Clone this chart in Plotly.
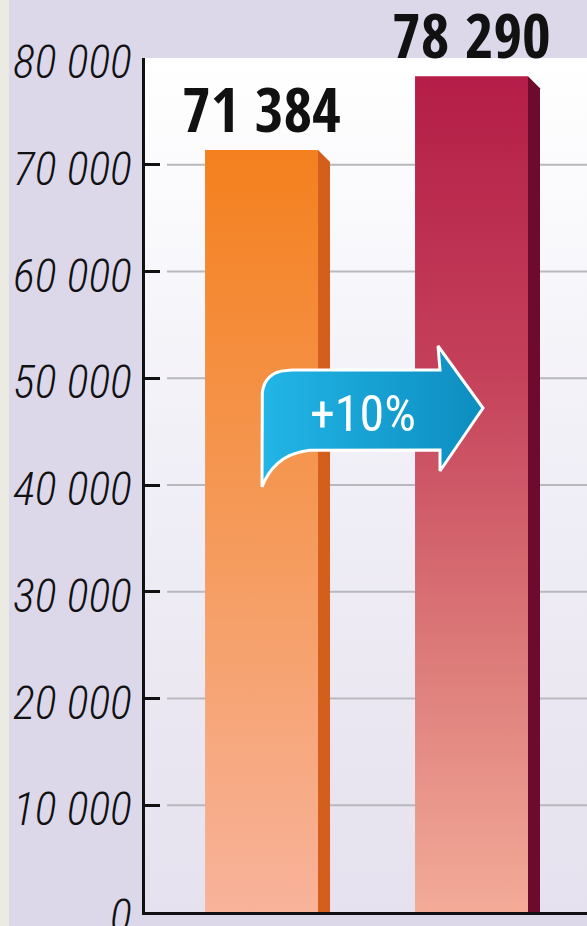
import plotly.graph_objects as go

# ---------------- data ----------------
categories = ["Previous", "Current"]
values = [71384, 78290]
tick_vals = [0, 10000, 20000, 30000, 40000, 50000, 60000, 70000, 80000]
tick_text = ["0", "10 000", "20 000", "30 000", "40 000", "50 000", "60 000", "70 000", "80 000"]
change_label = "+10%"

# ---------------- styles ----------------
front_scales = [
    [[0, "#f8b39b"], [0.5, "#f59a5a"], [1, "#f4801e"]],
    [[0, "#f3ab98"], [0.3, "#dd7c7a"], [0.65, "#c4405a"], [1, "#b41d47"]],
]
side_colors = ["#d45e1c", "#6c0b2d"]
TICK_FONT = "Roboto Condensed, DejaVu Sans Condensed, sans-serif"
VALUE_FONT = "Open Sans Condensed, Roboto Condensed, sans-serif"

W, H = 587, 926
ML, MR, MT, MB = 145, 0, 58, 14
PW, PH = W - ML - MR, H - MT - MB
X0, X1 = -0.555, 1.55
Y0, Y1 = 0, 80000
BW = 0.538  # bar width in category units


def px2x(px):
    return X0 + (px - ML) / PW * (X1 - X0)


def py2y(py):
    return Y0 + (H - MB - py) / PH * (Y1 - Y0)


DX = px2x(ML + 12) - px2x(ML)
DY = py2y(H - MB - 12) - py2y(H - MB)

fig = go.Figure()

# plot background gradient
fig.add_trace(go.Scatter(
    x=[X0, X1, X1, X0, X0], y=[Y0, Y0, Y1, Y1, Y0], mode="lines",
    fill="toself", line=dict(width=0),
    fillgradient=dict(type="vertical",
                      colorscale=[[0, "#e5e1ee"], [0.5, "#f0eef6"], [1, "#ffffff"]]),
    hoverinfo="skip", showlegend=False))

# gridlines
for tv in tick_vals[1:-1]:
    fig.add_trace(go.Scatter(x=[px2x(167), X1], y=[tv, tv], mode="lines",
                             line=dict(color="#b9b9bd", width=2),
                             hoverinfo="skip", showlegend=False))

# bars (front face + side face)
for i, (cat, v) in enumerate(zip(categories, values)):
    l, r = i - BW / 2, i + BW / 2
    fig.add_trace(go.Scatter(
        x=[l, r, r, l, l], y=[0, 0, v, v, 0], mode="lines", fill="toself",
        line=dict(width=0), name=cat,
        fillgradient=dict(type="vertical", colorscale=front_scales[i]),
        showlegend=False))
    fig.add_trace(go.Scatter(
        x=[r, r + DX, r + DX, r, r], y=[0, 0, v - DY, v, 0], mode="lines", fill="toself",
        line=dict(width=0), fillcolor=side_colors[i], hoverinfo="skip", showlegend=False))
    fig.add_annotation(x=i, y=v, text=f"{v:,}".replace(",", " "), showarrow=False,
                       yanchor="bottom", yshift=-2,
                       font=dict(family=VALUE_FONT, size=62, weight="bold", color="#111111"))


# arrow callout (decoration)
def quad(p0, c, p1, n=10):
    pts = []
    for k in range(1, n + 1):
        t = k / n
        pts.append(((1 - t) ** 2 * p0[0] + 2 * (1 - t) * t * c[0] + t * t * p1[0],
                    (1 - t) ** 2 * p0[1] + 2 * (1 - t) * t * c[1] + t * t * p1[1]))
    return pts


pts = [(262, 487), (262, 398)]
pts += quad((262, 398), (262, 370), (292, 370))
pts += [(440, 370), (438, 346), (483, 408), (440, 471), (440, 450), (318, 450)]
pts += quad((318, 450), (276, 450), (262, 487))
fig.add_trace(go.Scatter(
    x=[px2x(p[0]) for p in pts], y=[py2y(p[1]) for p in pts], mode="lines",
    fill="toself", line=dict(color="white", width=3),
    fillgradient=dict(type="horizontal", colorscale=[[0, "#22b5e6"], [1, "#0d8dc0"]]),
    hoverinfo="skip", showlegend=False))
fig.add_annotation(x=px2x(363), y=py2y(414), text=change_label, showarrow=False,
                   font=dict(family=TICK_FONT, size=50, weight=400, color="white"))

# left beige strip
fig.add_shape(type="rect", xref="paper", yref="paper",
              x0=-ML / PW, x1=(9 - ML) / PW, y0=-MB / PH, y1=1 + MT / PH,
              fillcolor="#ecebe3", line=dict(width=0), layer="below")

fig.update_layout(
    width=W, height=H,
    margin=dict(l=ML, r=MR, t=MT, b=MB, pad=0, autoexpand=False),
    paper_bgcolor="#dcd8ea", plot_bgcolor="#ffffff",
    showlegend=False,
    xaxis=dict(range=[X0, X1], showgrid=False, zeroline=False, showticklabels=False,
               showline=True, linecolor="#111111", linewidth=3, ticks="", automargin=False),
    yaxis=dict(range=[Y0, Y1], tickvals=tick_vals, ticktext=tick_text, automargin=False,
               showgrid=False, zeroline=False, showline=True, linecolor="#111111",
               linewidth=3, ticks="inside", ticklen=15, tickwidth=3, tickcolor="#111111",
               ticklabelstandoff=1, ticklabelshift=4, ticklabeloverflow="allow",
               tickfont=dict(family=TICK_FONT, size=46, style="italic", weight=300,
                             color="#111111")),
)

fig.write_html("out.html", config={"displayModeBar": False},
               post_script="document.body.style.margin='0';")
